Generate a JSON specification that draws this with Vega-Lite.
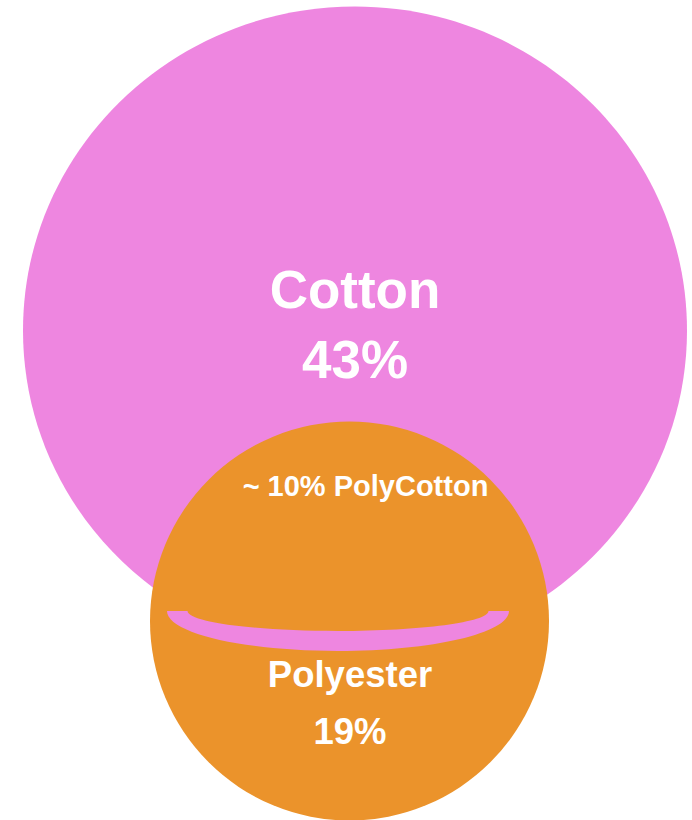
{
  "$schema": "https://vega.github.io/schema/vega-lite/v6.json",
  "width": 692,
  "height": 820,
  "padding": 0,
  "autosize": {"type": "none"},
  "background": "white",
  "view": {"stroke": null},
  "config": {"axis": {"disable": true}},
  "datasets": {
    "sets": [
      {"set": "Cotton", "share": 43, "x": 355, "y": 330.5},
      {"set": "Polyester", "share": 19, "x": 349.5, "y": 621}
    ],
    "overlap": [
      {"set": "PolyCotton", "share": 10, "x": 338, "y": 611}
    ],
    "labels": [
      {"text": "Cotton", "role": "big", "x": 355, "y": 308},
      {"text": "43%", "role": "big", "x": 355, "y": 378},
      {"text": "~ 10% PolyCotton", "role": "overlap", "x": 365.5, "y": 496},
      {"text": "Polyester", "role": "small", "x": 350, "y": 687},
      {"text": "19%", "role": "small", "x": 350, "y": 744}
    ]
  },
  "encoding": {
    "x": {"field": "x", "type": "quantitative", "scale": {"domain": [0, 692], "nice": false, "zero": false}, "axis": null},
    "y": {"field": "y", "type": "quantitative", "scale": {"domain": [0, 820], "nice": false, "zero": false, "reverse": true}, "axis": null}
  },
  "layer": [
    {
      "data": {"name": "sets"},
      "transform": [{"filter": "datum.set === 'Cotton'"}],
      "mark": {"type": "point", "filled": true, "opacity": 1, "size": 440896, "strokeWidth": 0, "color": "#ee86e0",
        "shape": "M1,0 C1,0.539 0.5523,0.9759 0,0.9759 C-0.5523,0.9759 -1,0.539 -1,0 C-1,-0.539 -0.5523,-0.9759 0,-0.9759 C0.5523,-0.9759 1,-0.539 1,0 Z"}
    },
    {
      "data": {"name": "sets"},
      "transform": [{"filter": "datum.set === 'Polyester'"}],
      "mark": {"type": "point", "filled": true, "opacity": 1, "size": 159201, "strokeWidth": 0, "color": "#eb932b", "shape": "circle"}
    },
    {
      "data": {"name": "overlap"},
      "mark": {"type": "point", "filled": true, "opacity": 1, "size": 116964, "strokeWidth": 0, "color": "#ee86e0",
        "shape": "M-1,0 L-0.8801,0 C-0.8801,0.0646 -0.4861,0.117 0,0.117 C0.4861,0.117 0.8801,0.0646 0.8801,0 L1,0 C1,0.1292 0.5523,0.2339 0,0.2339 C-0.5523,0.2339 -1,0.1292 -1,0 Z"}
    },
    {
      "data": {"name": "labels"},
      "transform": [{"filter": "datum.role === 'big'"}],
      "mark": {"type": "text", "font": "Liberation Sans", "fontWeight": "bold", "fontSize": 53, "color": "white", "align": "center", "baseline": "alphabetic"},
      "encoding": {"text": {"field": "text"}}
    },
    {
      "data": {"name": "labels"},
      "transform": [{"filter": "datum.role === 'small'"}],
      "mark": {"type": "text", "font": "Liberation Sans", "fontWeight": "bold", "fontSize": 36.5, "color": "white", "align": "center", "baseline": "alphabetic"},
      "encoding": {"text": {"field": "text"}}
    },
    {
      "data": {"name": "labels"},
      "transform": [{"filter": "datum.role === 'overlap'"}],
      "mark": {"type": "text", "font": "Liberation Sans", "fontWeight": "bold", "fontSize": 29, "color": "white", "align": "center", "baseline": "alphabetic"},
      "encoding": {"text": {"field": "text"}}
    }
  ]
}
